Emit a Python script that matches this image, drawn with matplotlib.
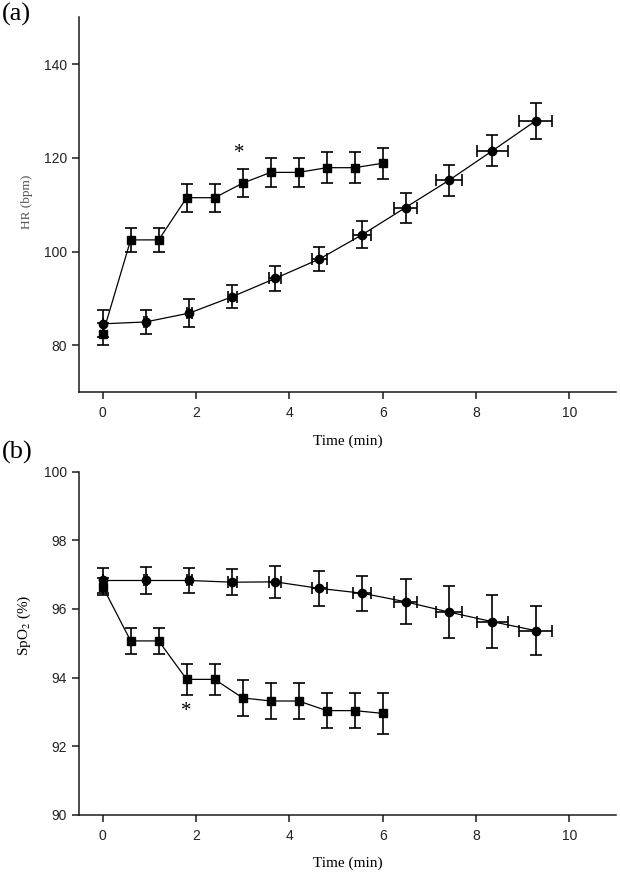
import matplotlib.pyplot as plt
import numpy as np

plt.rcParams['mathtext.fontset'] = 'stix'

# panel (a) HR, squares
sq_time = [0, 0.6, 1.2, 1.8, 2.4, 3.0, 3.6, 4.2, 4.8, 5.4, 6.0]
sq_hr = [82.4, 102.5, 102.5, 111.5, 111.5, 114.6, 116.9, 116.9, 117.9, 117.9, 118.85]
sq_hr_err = [2.4, 2.6, 2.6, 3.0, 3.0, 3.0, 3.05, 3.05, 3.3, 3.3, 3.3]

# panel (a) HR, circles
ci_time = [0, 0.92, 1.86, 2.78, 3.70, 4.64, 5.56, 6.49, 7.42, 8.35, 9.28]
ci_time_err = [0, 0.03, 0.05, 0.1, 0.13, 0.16, 0.2, 0.25, 0.28, 0.33, 0.35]
ci_hr = [84.6, 85.0, 86.9, 90.4, 94.3, 98.4, 103.6, 109.4, 115.2, 121.5, 127.9]
ci_hr_err = [2.9, 2.6, 3.0, 2.5, 2.7, 2.6, 2.9, 3.2, 3.3, 3.3, 3.9]

# panel (b) SpO2
sq_spo2 = [96.65, 95.07, 95.07, 93.95, 93.95, 93.41, 93.32, 93.32, 93.04, 93.04, 92.96]
sq_spo2_err = [0.25, 0.39, 0.39, 0.45, 0.45, 0.52, 0.51, 0.51, 0.51, 0.51, 0.59]
ci_spo2 = [96.83, 96.83, 96.83, 96.78, 96.79, 96.6, 96.46, 96.21, 95.91, 95.63, 95.37]
ci_spo2_err = [0.37, 0.4, 0.37, 0.38, 0.46, 0.5, 0.51, 0.65, 0.75, 0.77, 0.72]

# asterisk positions (time, value)
star_a = (2.92, 121.5)
star_b = (1.80, 93.09)

fig = plt.figure(figsize=(6.2, 8.77), dpi=100)
ax1 = fig.add_axes([0.128, 0.5527, 0.8655, 0.4277])
ax2 = fig.add_axes([0.128, 0.0707, 0.8655, 0.3915])

serif = 'Liberation Serif'


def style_axes(ax):
    for side in ['top', 'right']:
        ax.spines[side].set_visible(False)
    for side in ['left', 'bottom']:
        ax.spines[side].set_linewidth(1.1)
        ax.spines[side].set_color('#1a1a1a')
    ax.tick_params(direction='out', length=5, width=1.1, color='#1a1a1a', labelcolor='#222222')
    ax.tick_params(axis='x', pad=5)
    ax.tick_params(axis='y', pad=4)
    for lab in ax.get_xticklabels() + ax.get_yticklabels():
        lab.set_fontfamily('Liberation Sans')
        lab.set_fontsize(10)
    ax.set_xlim(-0.5, 11)
    ax.set_xticks([0, 2, 4, 6, 8, 10])
    ax.set_xlabel('Time (min)', family=serif, fontsize=11, labelpad=10)


err_kw = dict(color='black', ecolor='black', elinewidth=1.2, capsize=4.5, capthick=1.2, linewidth=0.9)

# (a)
ax1.errorbar(sq_time, sq_hr, yerr=sq_hr_err, marker='s', markersize=6.3, **err_kw)
ax1.errorbar(ci_time, ci_hr, yerr=ci_hr_err, xerr=ci_time_err, marker='o', markersize=6, **err_kw)
ax1.set_ylim(70, 150)
ax1.set_yticks([80, 100, 120, 140])
ax1.set_ylabel('HR (bpm)', family=serif, fontsize=9.5, color='#555555')
ax1.yaxis.set_label_coords(-0.086, 0.507)
ax1.text(star_a[0], star_a[1], '*', family=serif, fontsize=15, ha='center', va='center_baseline')
style_axes(ax1)

# (b)
ax2.errorbar(sq_time, sq_spo2, yerr=sq_spo2_err, marker='s', markersize=6.3, **err_kw)
ax2.errorbar(ci_time, ci_spo2, yerr=ci_spo2_err, xerr=ci_time_err, marker='o', markersize=6, **err_kw)
ax2.set_ylim(90, 100)
ax2.set_yticks([90, 92, 94, 96, 98, 100])
ax2.set_ylabel('SpO$_2$ (%)', family=serif, fontsize=11)
ax2.yaxis.set_label_coords(-0.086, 0.553)
ax2.text(star_b[0], star_b[1], '*', family=serif, fontsize=15, ha='center', va='center_baseline')
style_axes(ax2)

fig.text(0.003, 0.997, '(a)', family=serif, fontsize=19, ha='left', va='top')
fig.text(0.003, 0.497, '(b)', family=serif, fontsize=19, ha='left', va='top')

fig.savefig('out.png', dpi=100)
